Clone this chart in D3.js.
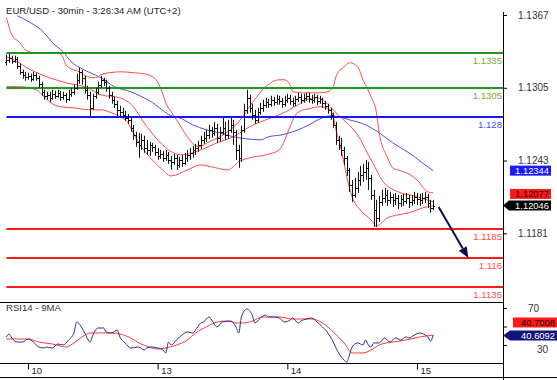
<!DOCTYPE html>
<html><head><meta charset="utf-8">
<script src="https://cdn.jsdelivr.net/npm/d3@7"></script>
<style>body{margin:0;background:#fff}svg{display:block;font-family:"Liberation Sans",Arial,sans-serif}</style>
</head><body><svg id="c" width="557" height="380"></svg>
<script>
const title = "EUR/USD - 30min - 3:26:34 AM (UTC+2)";
const rsiTitle = "RSI14 - 9MA";
const dayLabels = ["10","13","14","15"];
const dayStartIdx = [8,56,104,152];
const priceTicks = [1.1367,1.1305,1.1243,1.1181];
const rsiTicks = [70,50,30];
const levels = [1.1335,1.1305,1.128,1.1185,1.116,1.1135];
const levelLabels = ["1.1335","1.1305","1.128","1.1185","1.116","1.1135"];
const levelKinds = ["res","res","pivot","sup","sup","sup"];

const open = [1.13272,1.13289,1.13306,1.13280,1.13297,1.13238,1.13186,1.13161,1.13144,1.13152,1.13127,1.13161,1.13135,1.13084,1.13016,1.12982,1.12990,1.12965,1.12999,1.12982,1.13007,1.12973,1.12990,1.12956,1.12999,1.13016,1.13050,1.13118,1.13186,1.13135,1.13033,1.12990,1.12879,1.12982,1.13016,1.13076,1.13118,1.13101,1.13050,1.12990,1.12948,1.12914,1.12862,1.12845,1.12820,1.12794,1.12777,1.12709,1.12649,1.12589,1.12564,1.12606,1.12538,1.12521,1.12564,1.12547,1.12504,1.12470,1.12487,1.12453,1.12478,1.12436,1.12419,1.12453,1.12393,1.12436,1.12410,1.12453,1.12478,1.12496,1.12521,1.12538,1.12564,1.12606,1.12624,1.12649,1.12692,1.12666,1.12709,1.12624,1.12675,1.12709,1.12649,1.12692,1.12734,1.12675,1.12521,1.12453,1.12692,1.12862,1.12965,1.12879,1.12820,1.12777,1.12845,1.12879,1.12905,1.12931,1.12914,1.12948,1.12931,1.12956,1.12939,1.12914,1.12948,1.12965,1.12939,1.12922,1.12956,1.12973,1.12948,1.12965,1.12982,1.12956,1.12948,1.12973,1.12939,1.12956,1.12922,1.12896,1.12862,1.12820,1.12734,1.12606,1.12564,1.12521,1.12453,1.12350,1.12223,1.12137,1.12197,1.12265,1.12308,1.12333,1.12368,1.12282,1.12137,1.12009,1.11941,1.12078,1.12112,1.12137,1.12095,1.12120,1.12095,1.12112,1.12069,1.12103,1.12086,1.12112,1.12078,1.12095,1.12120,1.12103,1.12095,1.12112,1.12120,1.12069,1.12026];
const high = [1.13332,1.13340,1.13323,1.13323,1.13314,1.13255,1.13203,1.13186,1.13178,1.13169,1.13186,1.13178,1.13152,1.13101,1.13033,1.13016,1.13016,1.13033,1.13024,1.13033,1.13024,1.13016,1.13007,1.13033,1.13050,1.13076,1.13169,1.13221,1.13203,1.13152,1.13067,1.13016,1.12999,1.13050,1.13101,1.13152,1.13135,1.13118,1.13067,1.13016,1.12973,1.12939,1.12896,1.12879,1.12854,1.12828,1.12803,1.12734,1.12675,1.12666,1.12658,1.12641,1.12606,1.12589,1.12581,1.12564,1.12538,1.12521,1.12513,1.12521,1.12504,1.12470,1.12487,1.12478,1.12461,1.12478,1.12496,1.12521,1.12538,1.12555,1.12572,1.12598,1.12641,1.12675,1.12692,1.12734,1.12717,1.12760,1.12743,1.12717,1.12794,1.12760,1.12777,1.12794,1.12777,1.12692,1.12564,1.12726,1.12914,1.13033,1.12990,1.12914,1.12862,1.12879,1.12922,1.12948,1.12965,1.12956,1.12982,1.12973,1.12990,1.12982,1.12965,1.12982,1.12999,1.12990,1.12965,1.12982,1.13007,1.12999,1.12999,1.13007,1.13007,1.12990,1.12999,1.12990,1.12982,1.12965,1.12939,1.12914,1.12879,1.12837,1.12760,1.12641,1.12624,1.12547,1.12470,1.12368,1.12265,1.12282,1.12333,1.12385,1.12402,1.12436,1.12419,1.12308,1.12180,1.12095,1.12129,1.12180,1.12197,1.12180,1.12163,1.12146,1.12154,1.12137,1.12137,1.12146,1.12154,1.12137,1.12137,1.12163,1.12154,1.12146,1.12154,1.12163,1.12146,1.12095,1.12095];
const low = [1.13238,1.13263,1.13255,1.13263,1.13212,1.13161,1.13127,1.13110,1.13118,1.13101,1.13110,1.13110,1.13050,1.12982,1.12948,1.12948,1.12931,1.12948,1.12956,1.12965,1.12939,1.12948,1.12922,1.12939,1.12973,1.12990,1.13033,1.13084,1.13076,1.12999,1.12948,1.12803,1.12862,1.12956,1.12990,1.13050,1.13067,1.13016,1.12956,1.12914,1.12879,1.12811,1.12803,1.12794,1.12769,1.12743,1.12675,1.12606,1.12547,1.12453,1.12521,1.12496,1.12478,1.12470,1.12504,1.12470,1.12436,1.12444,1.12419,1.12427,1.12402,1.12350,1.12393,1.12350,1.12368,1.12376,1.12393,1.12419,1.12436,1.12453,1.12478,1.12504,1.12530,1.12572,1.12589,1.12615,1.12624,1.12641,1.12581,1.12589,1.12649,1.12606,1.12615,1.12666,1.12564,1.12436,1.12368,1.12419,1.12666,1.12828,1.12837,1.12777,1.12743,1.12751,1.12820,1.12845,1.12879,1.12879,1.12888,1.12896,1.12905,1.12905,1.12879,1.12888,1.12922,1.12905,1.12888,1.12896,1.12931,1.12914,1.12922,1.12939,1.12922,1.12914,1.12922,1.12905,1.12914,1.12879,1.12862,1.12828,1.12777,1.12709,1.12564,1.12521,1.12470,1.12393,1.12299,1.12163,1.12078,1.12112,1.12154,1.12214,1.12248,1.12265,1.12180,1.12095,1.11864,1.11864,1.11907,1.12044,1.12069,1.12044,1.12061,1.12035,1.12052,1.12018,1.12035,1.12044,1.12061,1.12026,1.12044,1.12061,1.12052,1.12044,1.12061,1.12069,1.12026,1.11984,1.12009];
const close = [1.13289,1.13306,1.13280,1.13297,1.13238,1.13186,1.13161,1.13144,1.13152,1.13127,1.13161,1.13135,1.13084,1.13016,1.12982,1.12990,1.12965,1.12999,1.12982,1.13007,1.12973,1.12990,1.12956,1.12999,1.13016,1.13050,1.13118,1.13186,1.13135,1.13033,1.12990,1.12879,1.12982,1.13016,1.13076,1.13118,1.13101,1.13050,1.12990,1.12948,1.12914,1.12862,1.12845,1.12820,1.12794,1.12777,1.12709,1.12649,1.12589,1.12564,1.12606,1.12538,1.12521,1.12564,1.12547,1.12504,1.12470,1.12487,1.12453,1.12478,1.12436,1.12419,1.12453,1.12393,1.12436,1.12410,1.12453,1.12478,1.12496,1.12521,1.12538,1.12564,1.12606,1.12624,1.12649,1.12692,1.12666,1.12709,1.12624,1.12675,1.12709,1.12649,1.12692,1.12734,1.12675,1.12521,1.12453,1.12692,1.12862,1.12965,1.12879,1.12820,1.12777,1.12845,1.12879,1.12905,1.12931,1.12914,1.12948,1.12931,1.12956,1.12939,1.12914,1.12948,1.12965,1.12939,1.12922,1.12956,1.12973,1.12948,1.12965,1.12982,1.12956,1.12948,1.12973,1.12939,1.12956,1.12922,1.12896,1.12862,1.12820,1.12734,1.12606,1.12564,1.12521,1.12453,1.12350,1.12223,1.12137,1.12197,1.12265,1.12308,1.12333,1.12368,1.12282,1.12137,1.12009,1.11941,1.12078,1.12112,1.12137,1.12095,1.12120,1.12095,1.12112,1.12069,1.12103,1.12086,1.12112,1.12078,1.12095,1.12120,1.12103,1.12095,1.12112,1.12120,1.12069,1.12026,1.12046];

const bbUpperIdx = [0,2,5,7,10,14,19,21,22,24,27,30,33,35,38,43,47,51,54,56,58,59,61,63,67,71,75,82,86,91,96,101,103,105,106,110,116,119,121,122,125,127,130,132,135,137,138,141,143,146,149,152,156,158];
const bbUpper = [1.13647,1.13502,1.13434,1.13374,1.13349,1.13349,1.13349,1.13306,1.13246,1.13212,1.13186,1.13144,1.13135,1.13161,1.13178,1.13186,1.13178,1.13169,1.13144,1.13101,1.12990,1.12922,1.12845,1.12777,1.12632,1.12547,1.12589,1.12675,1.12760,1.12922,1.13059,1.13118,1.13118,1.13076,1.13016,1.13007,1.13007,1.13016,1.13059,1.13144,1.13229,1.13263,1.13229,1.13118,1.12973,1.12837,1.12666,1.12461,1.12368,1.12342,1.12316,1.12265,1.12163,1.12154];
const bbMidIdx = [0,2,9,16,22,30,35,42,47,51,56,59,65,72,78,84,90,96,101,108,111,115,118,120,122,126,130,134,137,139,145,151,158];
const bbMid = [1.13314,1.13297,1.13203,1.13135,1.13093,1.13050,1.12990,1.12965,1.12888,1.12751,1.12606,1.12538,1.12478,1.12521,1.12581,1.12632,1.12717,1.12777,1.12820,1.12905,1.12948,1.12965,1.12931,1.12888,1.12837,1.12751,1.12649,1.12478,1.12350,1.12265,1.12163,1.12129,1.12077];
const bbLowerIdx = [0,5,11,14,16,20,25,31,35,38,42,45,47,49,53,57,61,67,72,76,82,86,90,96,101,105,107,110,112,116,120,121,122,124,126,128,131,135,137,141,145,149,154,158];
const bbLower = [1.13059,1.13059,1.13033,1.12973,1.12931,1.12888,1.12879,1.12862,1.12862,1.12845,1.12803,1.12751,1.12666,1.12581,1.12461,1.12368,1.12299,1.12350,1.12393,1.12376,1.12350,1.12419,1.12453,1.12478,1.12521,1.12717,1.12820,1.12862,1.12871,1.12888,1.12862,1.12803,1.12692,1.12521,1.12291,1.12120,1.12009,1.11924,1.11873,1.11941,1.11967,1.11984,1.12026,1.12044];
const maIdx = [4,9,14,17,21,24,28,31,35,40,46,53,62,64,69,74,79,84,89,94,97,102,108,112,117,120,123,127,133,138,143,149,154,158];
const ma = [1.13664,1.13604,1.13519,1.13434,1.13357,1.13272,1.13212,1.13178,1.13135,1.13059,1.13016,1.12939,1.12803,1.12794,1.12734,1.12692,1.12666,1.12632,1.12615,1.12606,1.12632,1.12649,1.12692,1.12734,1.12794,1.12811,1.12803,1.12777,1.12734,1.12666,1.12581,1.12496,1.12410,1.12344];

const rsiIdx = [0,1,2,4,6,8,10,12,14,15,17,19,21,23,25,26,28,29,31,32,34,36,37,39,41,42,44,46,49,51,52,54,56,58,59,60,61,63,65,67,69,70,72,73,75,76,78,80,83,85,86,87,89,91,92,94,96,97,99,101,103,105,106,108,109,111,113,115,117,119,121,122,123,125,126,127,128,130,132,133,134,135,136,138,140,142,144,146,148,149,151,153,155,156,157,158];
const rsi = [38.7,41.9,37.6,33.2,33.2,36.5,33.2,27.8,26.8,27.8,26.8,31.1,30.0,35.4,43.0,54.9,48.4,43.0,33.2,40.8,48.4,48.4,44.1,43.0,46.2,38.7,32.2,26.8,27.8,24.6,26.8,27.8,26.8,24.6,21.4,33.2,30.0,35.4,40.8,44.1,43.0,46.2,53.8,54.9,60.3,57.0,49.5,54.9,55.9,49.5,43.0,60.3,68.9,62.4,53.8,59.2,62.4,60.3,60.3,59.2,54.9,57.0,59.2,53.8,55.9,58.1,59.2,54.9,49.5,43.0,33.2,26.8,21.4,13.8,11.6,19.2,27.8,32.2,30.0,35.4,30.0,27.8,32.2,32.2,37.6,33.2,37.6,35.4,38.7,37.6,40.8,43.0,40.8,38.7,34.3,40.6092];
const rsiMaIdx = [0,4,8,12,17,22,25,28,31,34,39,42,46,49,53,56,59,63,67,70,74,78,82,85,88,91,95,101,106,113,117,121,125,128,132,135,138,143,148,153,158];
const rsiMa = [36.5,36.5,36.5,33.2,31.1,27.8,32.2,38.7,43.0,43.0,43.0,41.9,37.6,32.2,27.8,25.7,26.8,30.0,35.4,43.0,49.5,54.9,55.9,53.8,53.8,55.9,60.3,60.3,58.1,58.1,53.8,44.1,32.2,21.4,21.4,24.6,30.0,33.2,35.4,38.7,40.7008];

const arrowFrom = [160, 1.12035];
const arrowTo = [171, 1.116];

// ---------- drawing ----------
const svg = d3.select("#c");
const FONT = "'Liberation Sans', Arial, sans-serif";
const x = d3.scaleLinear().domain([0,158]).range([6.4,433.2]);
const y = d3.scaleLinear().domain([1.1181,1.1367]).range([233.3,15]);
const yR = d3.scaleLinear().domain([30,70]).range([345,308]);
const AX = 503;

svg.append("text").attr("x",6).attr("y",14).attr("font-size",9.6).attr("fill","#222").text(title);

svg.append("line").attr("x1",0).attr("x2",AX).attr("y1",302.5).attr("y2",302.5).attr("stroke","#000");
svg.append("line").attr("x1",0).attr("x2",AX).attr("y1",363.5).attr("y2",363.5).attr("stroke","#000");
svg.append("line").attr("x1",0).attr("x2",557).attr("y1",377.5).attr("y2",377.5).attr("stroke","#000");
svg.append("line").attr("x1",AX+0.5).attr("x2",AX+0.5).attr("y1",12).attr("y2",380).attr("stroke","#000");

svg.append("clipPath").attr("id","mc").append("rect").attr("x",0).attr("y",12).attr("width",AX).attr("height",290);
const main = svg.append("g").attr("clip-path","url(#mc)");

const lvColor = {res:"#1f961f", pivot:"#1515ff", sup:"#ff1a1a"};
const lvText = {res:"#73ad2a", pivot:"#4b4bff", sup:"#ff4d4d"};

const seg = (idx, vals) => idx.map((d,i)=>[d, vals[i]]);
const line = d3.line().x(d=>x(d[0])).y(d=>y(d[1])).curve(d3.curveMonotoneX);
main.append("path").attr("d",line(seg(maIdx,ma))).attr("fill","none").attr("stroke","#4c4cf5").attr("stroke-width",1);
[[bbUpperIdx,bbUpper],[bbMidIdx,bbMid],[bbLowerIdx,bbLower]].forEach(([a,b])=>{
  main.append("path").attr("d",line(seg(a,b))).attr("fill","none").attr("stroke","#ff4a4a").attr("stroke-width",1);
});

levels.forEach((v,i)=>{
  const yy = Math.round(y(v));
  main.append("line").attr("x1",x(0)).attr("x2",AX).attr("y1",yy).attr("y2",yy)
    .attr("stroke",lvColor[levelKinds[i]]).attr("stroke-width",2);
  svg.append("text").attr("x",AX-1).attr("y",yy+11).attr("text-anchor","end")
    .attr("font-size",9.6).attr("fill",lvText[levelKinds[i]]).text(levelLabels[i]);
});

const bars = main.append("g").attr("stroke","#111").attr("stroke-width",1).attr("fill","none");
close.forEach((c,i)=>{
  const xi = Math.round(x(i))+0.5;
  const yo = Math.round(y(open[i]))+0.5, yc = Math.round(y(c))+0.5;
  bars.append("path").attr("d",
    `M${xi},${y(high[i])}V${y(low[i])}M${xi-1.5},${yo}H${xi}M${xi},${yc}H${xi+1.5}`);
});

{
  const x1=x(arrowFrom[0]), y1=y(arrowFrom[1]), x2=x(arrowTo[0]), y2=y(arrowTo[1]);
  const ang=Math.atan2(y2-y1,x2-x1), L=11, Wd=4.5;
  const bx=x2-L*Math.cos(ang), by=y2-L*Math.sin(ang);
  svg.append("line").attr("x1",x1).attr("y1",y1).attr("x2",bx).attr("y2",by).attr("stroke","#0c0c4a").attr("stroke-width",2);
  svg.append("path").attr("d",`M${x2},${y2}L${bx+Wd*Math.sin(ang)},${by-Wd*Math.cos(ang)}L${bx-Wd*Math.sin(ang)},${by+Wd*Math.cos(ang)}Z`).attr("fill","#0c0c4a");
}

const pa = svg.append("g").attr("transform",`translate(${AX},0)`)
  .call(d3.axisRight(y).tickValues(priceTicks).tickSize(4).tickPadding(11).tickFormat(d3.format(".4f")));
pa.select(".domain").remove();
pa.selectAll("text").attr("font-size",10).attr("font-family",FONT).attr("fill","#333");
pa.selectAll("line").attr("stroke","#000");

function box(v, scale, x0, x1, fill, tc, label, arrow, yOverride){
  const yc = yOverride!==undefined ? yOverride : scale(v);
  const g = svg.append("g");
  if(arrow){
    g.append("path").attr("d",`M${AX},${yc}L${x0},${yc-5}H${x1}V${yc+5}H${x0}Z`).attr("fill",fill);
  } else {
    g.append("rect").attr("x",x0).attr("y",yc-5).attr("width",x1-x0).attr("height",10).attr("fill",fill);
  }
  g.append("text").attr("x",x1-2).attr("y",yc+3.5).attr("text-anchor","end").attr("font-size",9.4).attr("fill",tc).text(label);
}
box(ma[ma.length-1], y, 510, 551, "#1a1aff", "#fff", d3.format(".5f")(ma[ma.length-1]), false);
box(bbMid[bbMid.length-1], y, 510, 551, "#ff1a1a", "#2a0000", d3.format(".5f")(bbMid[bbMid.length-1]), false, y(bbMid[bbMid.length-1])-8);
box(close[close.length-1], y, 509, 551, "#000", "#fff", d3.format(".5f")(close[close.length-1]), true);

svg.append("text").attr("x",6).attr("y",311).attr("font-size",9.6).attr("fill","#333").text(rsiTitle);
svg.append("clipPath").attr("id","rc").append("rect").attr("x",0).attr("y",303).attr("width",AX).attr("height",60);
const rp = svg.append("g").attr("clip-path","url(#rc)");
const rl = d3.line().x(d=>x(d[0])).y(d=>yR(d[1])).curve(d3.curveMonotoneX);
rp.append("path").attr("d",rl(seg(rsiMaIdx,rsiMa))).attr("fill","none").attr("stroke","#ff3a3a").attr("stroke-width",1);
rp.append("path").attr("d",rl(seg(rsiIdx,rsi))).attr("fill","none").attr("stroke","#2b2b99").attr("stroke-width",1);

const ra = svg.append("g").attr("transform",`translate(${AX},0)`)
  .call(d3.axisRight(yR).tickValues(rsiTicks).tickSize(4).tickPadding(21).tickFormat(d=> d===50?"":String(d)));
ra.select(".domain").remove();
ra.selectAll("text").attr("font-size",10).attr("font-family",FONT).attr("fill","#333");
ra.selectAll(".tick").filter(d=>d===30).select("text").attr("dx",9).attr("dy","0.75em");
ra.selectAll("line").attr("stroke","#000");

box(rsiMa[rsiMa.length-1], yR, 513, 557, "#ff1a1a", "#2a0000", d3.format(".4f")(rsiMa[rsiMa.length-1]), false, 322.5);
box(rsi[rsi.length-1], yR, 510, 557, "#14147a", "#fff", d3.format(".4f")(rsi[rsi.length-1]), true, 335.5);

const ta = svg.append("g").attr("transform","translate(0,363.5)")
  .call(d3.axisBottom(x).tickValues(dayStartIdx).tickSize(6).tickFormat((d,i)=>dayLabels[i]));
ta.select(".domain").remove();
ta.selectAll("line").attr("stroke","#000");
ta.selectAll("text").attr("font-size",9.5).attr("font-family",FONT).attr("fill","#222")
  .attr("text-anchor","start").attr("x",3).attr("y",10).attr("dy",0);
</script></body></html>
